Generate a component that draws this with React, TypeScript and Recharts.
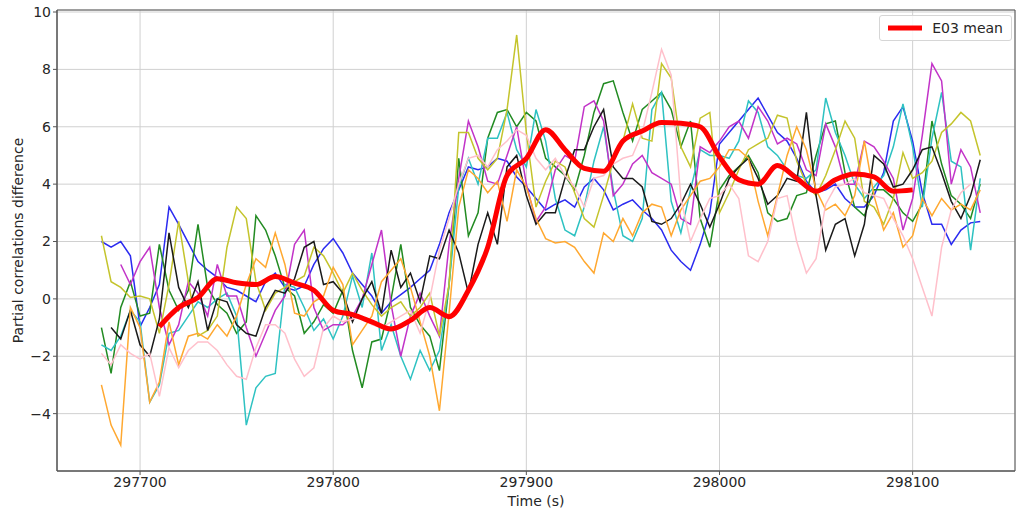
import { LineChart, Line, XAxis, YAxis, CartesianGrid, ReferenceArea, Legend, Label } from 'recharts';

// samples every 5 s starting at 297680 s
const startTime = 297680;
const step = 5;

const blue = [
  2.0, 1.8, 2.0, 1.5, -0.97, -0.3, 0.5, 3.2, 2.6, 1.95,
  1.3, 1.0, 0.75, 0.4, 0.3, 0.1, -0.1, 0.6, 0.9, 0.4,
  0.3, 0.45, 1.2, 1.75, 2.1, 1.6, 0.9, 0.5, 0.1, -0.5,
  -0.1, 0.15, 0.4, 0.7, 1.0, 1.9, 3.0, 3.8, 4.6, 4.5,
  4.6, 4.9, 4.8, 4.25, 3.9, 3.5, 3.1, 3.3, 3.45, 3.2,
  3.9, 4.2, 3.8, 3.1, 3.3, 3.45, 3.1, 2.8, 2.4, 1.7,
  1.3, 1.0, 1.9, 3.0, 5.4, 5.8, 6.2, 6.6, 7.0, 6.4,
  5.8, 5.5, 4.9, 4.1, 3.7, 3.8, 4.0, 3.5, 3.2, 3.2,
  3.6, 4.4, 6.2, 6.7, 5.5, 3.7, 2.6, 2.6, 1.9, 2.4,
  2.65, 2.7,
];

const green = [
  -1.0, -2.6, -0.3, 0.6, -0.6, -0.5, 1.9, 0.3, -0.4, 0.3,
  2.6, 0.4, -0.2, -0.5, -1.2, -0.8, 2.9, 2.4, 1.5, 0.4,
  0.1, -1.2, -0.8, -0.2, -0.5, 0.3, -1.8, -3.1, -1.5, -1.4,
  0.0, 1.9, -0.3, -0.9, -1.3, -2.5, 0.5, 4.9, 2.2, 3.0,
  5.6, 6.5, 6.6, 6.0, 6.5, 6.2, 4.9, 4.6, 4.3, 3.8,
  5.0, 6.5, 7.5, 7.6, 6.5, 5.5, 6.6, 6.9, 7.2, 6.6,
  5.3, 6.2, 2.8, 1.8, 3.8, 4.3, 4.6, 5.0, 4.4, 3.0,
  2.7, 2.8, 3.6, 3.7, 5.0, 6.1, 6.2, 4.4, 3.2, 2.9,
  3.8, 3.8, 3.5, 3.0, 2.7, 3.3, 6.2, 4.7, 3.6, 3.3,
  2.8, 4.0,
];

const magenta = [
  null, null, 1.2, 0.5, 1.3, 1.8, -0.3, -1.6, -0.9, 0.6,
  0.2, -0.6, 1.2, 0.1, 0.1, -1.0, -2.0, -1.2, -0.4, 0.1,
  1.9, 2.4, -0.3, -1.1, -0.9, -0.9, -0.6, 0.0, 1.2, 2.4,
  -0.2, -2.0, -0.6, 0.2, -0.6, -1.3, 1.9, 4.2, 6.2, 5.3,
  4.1, 4.0, 5.0, 6.0, 4.0, 2.7, 3.2, 4.5, 5.0, 4.8,
  6.7, 6.9, 6.2, 3.6, 4.0, 4.7, 5.0, 4.4, 4.2, 4.0,
  2.8, 2.6, 5.3, 5.1, 5.5, 6.0, 6.2, 5.6, 6.7, 6.2,
  5.4, 5.6, 5.4, 4.5, 4.3, 6.1, 5.3, 4.0, 4.0, 5.5,
  5.3, 4.8, 4.2, 2.4, 3.5, 5.7, 8.2, 7.6, 4.0, 5.2,
  4.6, 3.0,
];

const olive = [
  2.2, 0.6, 0.4, 0.05, 0.1, 0.0, -1.2, 0.5, 2.7, 0.6,
  -1.3, -1.1, -0.6, 1.8, 3.2, 2.8, 0.6, -0.4, 0.2, 0.4,
  0.6, 0.8, 1.8, 1.5, 0.9, 0.2, 0.9, 0.3, -0.2, -0.6,
  -0.3, -0.1, -0.6, -0.3, 0.2, -1.3, 0.5, 5.8, 5.8, 4.9,
  4.5, 4.9, 6.6, 9.2, 5.8, 3.2, 4.1, 4.8, 4.6, 3.7,
  2.8, 2.5, 3.6, 4.8, 5.5, 6.8, 5.6, 5.5, 8.2, 7.7,
  5.3, 4.6, 6.3, 6.5, 3.0, 3.7, 4.5, 5.2, 5.4, 5.6,
  6.4, 6.3, 4.8, 4.0, 3.6, 4.3, 5.2, 6.2, 5.6, 3.4,
  3.2, 2.6, 3.5, 5.1, 4.2, 4.4, 4.8, 5.8, 6.1, 6.5,
  6.2, 5.0,
];

const cyan = [
  -1.6, -1.8, -1.3, -0.4, -0.8, -3.6, -3.0, -1.2, -1.1, -0.6,
  -0.1, -0.3, 0.0, 0.2, -0.6, -4.4, -3.1, -2.7, -2.6, 0.5,
  0.4, -0.3, -1.1, -0.7, -1.4, -0.6, 0.8, -0.3, 1.6, -1.8,
  -0.9, -2.0, -2.8, -1.8, -2.5, -1.8, 0.5, 3.9, 4.9, 4.0,
  5.6, 5.6, 6.5, 5.2, 4.6, 6.6, 5.5, 3.5, 2.4, 2.2,
  3.2, 4.8, 6.0, 3.8, 2.2, 2.0, 2.8, 6.6, 7.2, 3.4,
  2.3, 3.8, 5.2, 5.0, 5.0, 4.9, 5.5, 6.9, 6.5, 5.3,
  5.0, 4.5, 4.3, 4.2, 4.5, 7.0, 5.8, 5.0, 4.0, 3.5,
  3.9, 4.3, 5.3, 6.8, 5.3, 3.2, 5.6, 7.2, 4.8, 4.6,
  1.7, 4.2,
];

const black = [
  null, -1.0, -1.4, -0.4, -1.6, -2.0, -0.7, 2.3, 0.4, -0.3,
  0.6, -1.1, 0.0, -0.1, -0.9, -1.2, -1.3, -0.3, 0.3, 0.2,
  0.7, 1.8, 2.0, 0.5, 0.6, 0.2, -0.8, 0.0, 0.6, -0.5,
  1.7, 0.4, 0.9, -0.1, 1.5, 1.4, 2.4, 1.6, 0.2, 1.9,
  3.0, 1.9, 4.6, 5.0, 3.6, 2.6, 3.0, 3.0, 4.2, 5.2,
  5.2, 6.0, 6.6, 4.6, 4.2, 4.2, 3.9, 2.7, 2.6, 2.8,
  3.3, 4.0, 3.3, 2.5, 3.3, 4.2, 4.6, 4.9, 4.2, 3.3,
  3.6, 4.2, 4.1, 6.5, 3.6, 1.7, 2.6, 2.8, 1.5, 2.6,
  5.0, 4.7, 3.9, 4.0, 4.5, 5.2, 5.3, 4.4, 3.4, 2.8,
  3.6, 4.85,
];

const orange = [
  -3.0, -4.4, -5.1, -0.3, -1.0, -3.6, -2.9, -0.8, -2.3, -1.3,
  -1.2, -1.4, -0.9, -1.3, -0.6, 0.5, 1.4, 1.1, 2.3, 1.2,
  -0.5, -0.6, -0.1, 0.1, 1.1, 0.5, -1.6, -1.1, -0.6, 0.6,
  1.0, 1.4, 0.4, -0.8, -2.0, -3.9, -0.5, 3.2, 4.5, 4.2,
  3.7, 4.1, 2.7, 4.5, 3.9, 2.8, 2.1, 1.95, 2.0, 1.8,
  1.3, 0.9, 2.3, 2.0, 2.8, 2.2, 3.0, 3.3, 3.2, 2.2,
  3.1, 3.6, 4.1, 4.2, 4.6, 5.2, 5.2, 4.9, 3.4, 2.2,
  3.6, 5.0, 6.0, 5.2, 3.8, 3.1, 3.3, 2.9, 3.6, 5.5,
  3.6, 2.4, 3.0, 1.8, 2.2, 3.5, 2.9, 3.5, 3.1, 3.3,
  3.1, 3.8,
];

const pink = [
  -1.9, -2.3, -1.6, -1.9, -2.1, -1.9, -3.4, -1.7, -2.4, -1.8,
  -1.5, -1.5, -1.8, -2.3, -2.7, -2.8, -1.7, -0.9, -0.9, -1.2,
  -2.1, -2.7, -2.4, -1.0, -0.6, -0.8, -0.7, -0.6, -0.9, -1.0,
  -0.8, -0.6, -0.4, -1.2, 0.0, 1.7, 2.8, 4.0, 4.9, 5.0,
  4.6, 5.2, 5.5, 5.9, 5.7, 4.9, 4.5, 4.9, 4.3, 3.9,
  3.2, 4.2, 4.3, 4.7, 4.9, 5.0, 5.8, 7.2, 8.7, 7.8,
  3.5, 2.0, 2.8, 3.5, 3.6, 4.0, 3.5, 1.5, 1.3, 2.0,
  3.5, 3.6, 2.0, 0.9, 1.4, 3.3, 3.9, 4.0, 4.2, 3.7,
  3.6, 3.5, 2.8, 2.2, 1.4, 0.4, -0.6, 1.8, 3.1, 3.7,
  4.0, null,
];

// E03 mean, every 10 s from 297710 s
const meanStart = 297710;
const meanStep = 10;
const meanE03 = [
  -0.97, -0.3, 0.05, 0.7, 0.56, 0.5, 0.78, 0.55, 0.3, -0.4,
  -0.55, -0.8, -1.05, -0.75, -0.3, -0.62, 0.3, 1.8, 4.3, 4.9,
  5.9, 5.2, 4.55, 4.45, 5.5, 5.85, 6.15, 6.12, 6.0, 4.95,
  4.15, 4.0, 4.65, 4.2, 3.75, 4.15, 4.35, 4.25, 3.75, 3.8,
];

const xTicks = [297700, 297800, 297900, 298000, 298100];
const yTicks = [-4, -2, 0, 2, 4, 6, 8, 10];

const series = [
  { key: 'blue', color: '#2b2bf0', values: blue },
  { key: 'green', color: '#228b22', values: green },
  { key: 'cyan', color: '#2ec2c2', values: cyan },
  { key: 'magenta', color: '#c233c8', values: magenta },
  { key: 'olive', color: '#c4c42c', values: olive },
  { key: 'black', color: '#1a1a1a', values: black },
  { key: 'orange', color: '#ffa830', values: orange },
  { key: 'pink', color: '#ffc0cb', values: pink },
];

const data = blue.map((_, i) => {
  const t = startTime + i * step;
  const row: Record<string, number | null> = { t };
  series.forEach((s) => {
    row[s.key] = s.values[i] ?? null;
  });
  const m = (t - meanStart) / meanStep;
  row.mean = Number.isInteger(m) && m >= 0 && m < meanE03.length ? meanE03[m] : null;
  return row;
});

const X_MIN = 297657;
const X_MAX = 298153;
const Y_MIN = -6;
const Y_MAX = 10.07;

const tickStyle = { fontSize: 14, fill: '#262626', fontFamily: 'DejaVu Sans' };

function MeanLegend() {
  return (
    <div
      style={{
        display: 'flex',
        alignItems: 'center',
        border: '1px solid #d6d6d6',
        borderRadius: 3,
        background: 'rgba(255,255,255,0.85)',
        padding: '4px 8px',
        fontSize: 14,
        color: '#262626',
        fontFamily: 'DejaVu Sans',
        whiteSpace: 'nowrap',
      }}
    >
      <svg width={34} height={10}>
        <line x1={0} y1={5} x2={34} y2={5} stroke="#ff0000" strokeWidth={5} />
      </svg>
      <span style={{ marginLeft: 10 }}>E03 mean</span>
    </div>
  );
}

export default function App() {
  return (
    <div style={{ position: 'absolute', left: 0, top: 0, background: '#fff', fontFamily: 'DejaVu Sans' }}>
      <LineChart width={1018} height={510} data={data} margin={{ top: 10, right: 3, bottom: 0, left: 0 }}>
        <CartesianGrid stroke="#d0d0d0" strokeWidth={1} />
        <XAxis
          dataKey="t"
          type="number"
          domain={[X_MIN, X_MAX]}
          ticks={xTicks}
          allowDataOverflow
          height={39}
          tick={tickStyle}
          tickSize={4}
          tickMargin={2}
          tickLine={{ stroke: '#555' }}
          axisLine={{ stroke: '#555' }}
        >
          <Label value="Time (s)" position="insideBottom" offset={4} style={{ fontSize: 14, fill: '#262626' }} />
        </XAxis>
        <YAxis
          type="number"
          domain={[Y_MIN, Y_MAX]}
          ticks={yTicks}
          allowDataOverflow
          width={57}
          tick={tickStyle}
          tickSize={4}
          tickMargin={2}
          tickLine={{ stroke: '#555' }}
          axisLine={{ stroke: '#555' }}
          tickFormatter={(v: number) => (v < 0 ? `\u2212${Math.abs(v)}` : `${v}`)}
        >
          <Label
            value="Partial correlations difference"
            angle={-90}
            position="insideLeft"
            offset={18}
            style={{ fontSize: 14, fill: '#262626', textAnchor: 'middle' }}
          />
        </YAxis>
        <ReferenceArea x1={X_MIN} x2={X_MAX} y1={Y_MIN} y2={Y_MAX} fill="none" stroke="#555" strokeWidth={1} ifOverflow="visible" />
        {series.map((s) => (
          <Line
            key={s.key}
            dataKey={s.key}
            stroke={s.color}
            strokeWidth={1.5}
            dot={false}
            activeDot={false}
            isAnimationActive={false}
            legendType="none"
          />
        ))}
        <Line
          dataKey="mean"
          name="E03 mean"
          type="monotone"
          stroke="#ff0000"
          strokeWidth={5}
          dot={false}
          activeDot={false}
          connectNulls
          isAnimationActive={false}
        />
        <Legend
          layout="horizontal"
          verticalAlign="middle"
          align="center"
          content={() => <MeanLegend />}
          wrapperStyle={{ top: 15, right: 6, left: 'auto', bottom: 'auto', width: 'auto', height: 'auto' }}
        />
      </LineChart>
    </div>
  );
}
